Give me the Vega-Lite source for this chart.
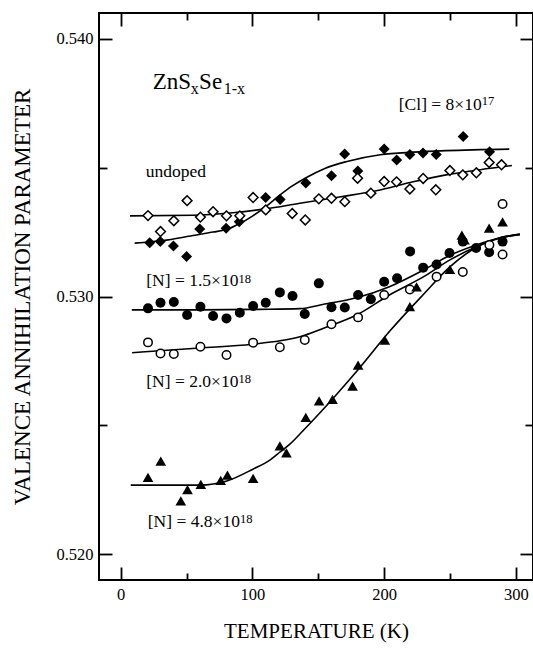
{
  "$schema": "https://vega.github.io/schema/vega-lite/v6.json",
  "width": 434,
  "height": 567,
  "autosize": {"type": "none"},
  "padding": {"left": 99, "top": 13, "right": 0, "bottom": 70},
  "background": "white",
  "config": {"view": {"stroke": "black", "strokeWidth": 2}, "font": "Liberation Serif"},
  "datasets": {
    "curves": [
      {"s": "Cl", "t": 10.6, "v": 0.53207}, {"s": "Cl", "t": 32, "v": 0.53217}, {"s": "Cl", "t": 53, "v": 0.53235}, {"s": "Cl", "t": 70, "v": 0.5325}, {"s": "Cl", "t": 81, "v": 0.53261}, {"s": "Cl", "t": 90, "v": 0.53282}, {"s": "Cl", "t": 100, "v": 0.53312}, {"s": "Cl", "t": 110, "v": 0.53348}, {"s": "Cl", "t": 120, "v": 0.5339}, {"s": "Cl", "t": 130, "v": 0.53428}, {"s": "Cl", "t": 141, "v": 0.53462}, {"s": "Cl", "t": 155, "v": 0.53497}, {"s": "Cl", "t": 171, "v": 0.53523}, {"s": "Cl", "t": 197, "v": 0.5355}, {"s": "Cl", "t": 222, "v": 0.5356}, {"s": "Cl", "t": 247, "v": 0.53566}, {"s": "Cl", "t": 295, "v": 0.53572},
      {"s": "undoped", "t": 7, "v": 0.53313}, {"s": "undoped", "t": 55, "v": 0.53315}, {"s": "undoped", "t": 85, "v": 0.53325}, {"s": "undoped", "t": 110, "v": 0.5334}, {"s": "undoped", "t": 136, "v": 0.53362}, {"s": "undoped", "t": 166, "v": 0.53386}, {"s": "undoped", "t": 194, "v": 0.5341}, {"s": "undoped", "t": 222, "v": 0.53445}, {"s": "undoped", "t": 247, "v": 0.53472}, {"s": "undoped", "t": 273, "v": 0.53492}, {"s": "undoped", "t": 297, "v": 0.53508},
      {"s": "N15", "t": 8.4, "v": 0.52948}, {"s": "N15", "t": 60, "v": 0.52948}, {"s": "N15", "t": 105, "v": 0.5295}, {"s": "N15", "t": 136, "v": 0.52953}, {"s": "N15", "t": 154, "v": 0.5297}, {"s": "N15", "t": 179, "v": 0.52995}, {"s": "N15", "t": 204, "v": 0.53038}, {"s": "N15", "t": 230, "v": 0.53103}, {"s": "N15", "t": 250, "v": 0.5316}, {"s": "N15", "t": 270, "v": 0.532}, {"s": "N15", "t": 288, "v": 0.53228}, {"s": "N15", "t": 303, "v": 0.5324},
      {"s": "N20", "t": 8.6, "v": 0.52782}, {"s": "N20", "t": 60, "v": 0.528}, {"s": "N20", "t": 100, "v": 0.52815}, {"s": "N20", "t": 121, "v": 0.52828}, {"s": "N20", "t": 136, "v": 0.52844}, {"s": "N20", "t": 154, "v": 0.52877}, {"s": "N20", "t": 179, "v": 0.52928}, {"s": "N20", "t": 204, "v": 0.53006}, {"s": "N20", "t": 230, "v": 0.53077}, {"s": "N20", "t": 250, "v": 0.53142}, {"s": "N20", "t": 270, "v": 0.53193}, {"s": "N20", "t": 288, "v": 0.53228}, {"s": "N20", "t": 303, "v": 0.53242},
      {"s": "N48", "t": 7.6, "v": 0.52268}, {"s": "N48", "t": 60, "v": 0.52268}, {"s": "N48", "t": 80.5, "v": 0.52284}, {"s": "N48", "t": 100.3, "v": 0.5233}, {"s": "N48", "t": 113.2, "v": 0.52365}, {"s": "N48", "t": 120.8, "v": 0.52396}, {"s": "N48", "t": 128.4, "v": 0.52427}, {"s": "N48", "t": 138.2, "v": 0.52478}, {"s": "N48", "t": 151.1, "v": 0.52548}, {"s": "N48", "t": 164, "v": 0.52621}, {"s": "N48", "t": 179.2, "v": 0.5271}, {"s": "N48", "t": 204.3, "v": 0.52866}, {"s": "N48", "t": 229.4, "v": 0.53006}, {"s": "N48", "t": 249.9, "v": 0.53115}, {"s": "N48", "t": 270.4, "v": 0.53192}, {"s": "N48", "t": 287.8, "v": 0.53227}, {"s": "N48", "t": 303, "v": 0.53241}
    ],
    "points": [
      {"s": "Cl", "t": 22, "v": 0.53209}, {"s": "Cl", "t": 30, "v": 0.53213}, {"s": "Cl", "t": 40, "v": 0.53196}, {"s": "Cl", "t": 50, "v": 0.53155}, {"s": "Cl", "t": 60, "v": 0.53262}, {"s": "Cl", "t": 80, "v": 0.53265}, {"s": "Cl", "t": 90, "v": 0.5329}, {"s": "Cl", "t": 110, "v": 0.53384}, {"s": "Cl", "t": 121, "v": 0.53376}, {"s": "Cl", "t": 140.5, "v": 0.5344}, {"s": "Cl", "t": 160, "v": 0.53469}, {"s": "Cl", "t": 170, "v": 0.53553}, {"s": "Cl", "t": 180, "v": 0.53487}, {"s": "Cl", "t": 200, "v": 0.53572}, {"s": "Cl", "t": 209.5, "v": 0.5353}, {"s": "Cl", "t": 219.5, "v": 0.53551}, {"s": "Cl", "t": 229.5, "v": 0.53557}, {"s": "Cl", "t": 239.5, "v": 0.53551}, {"s": "Cl", "t": 260, "v": 0.53621}, {"s": "Cl", "t": 280, "v": 0.53562},
      {"s": "undoped", "t": 20.7, "v": 0.53314}, {"s": "undoped", "t": 30.2, "v": 0.53252}, {"s": "undoped", "t": 40.3, "v": 0.53294}, {"s": "undoped", "t": 50.4, "v": 0.53372}, {"s": "undoped", "t": 60.5, "v": 0.53308}, {"s": "undoped", "t": 70.1, "v": 0.53329}, {"s": "undoped", "t": 80.3, "v": 0.53313}, {"s": "undoped", "t": 90.4, "v": 0.53313}, {"s": "undoped", "t": 100.5, "v": 0.53384}, {"s": "undoped", "t": 110.1, "v": 0.53336}, {"s": "undoped", "t": 130.2, "v": 0.53322}, {"s": "undoped", "t": 140.1, "v": 0.53297}, {"s": "undoped", "t": 150.4, "v": 0.53379}, {"s": "undoped", "t": 160, "v": 0.53381}, {"s": "undoped", "t": 170.1, "v": 0.53368}, {"s": "undoped", "t": 179.8, "v": 0.53459}, {"s": "undoped", "t": 189.9, "v": 0.53401}, {"s": "undoped", "t": 200, "v": 0.53446}, {"s": "undoped", "t": 209.4, "v": 0.53445}, {"s": "undoped", "t": 219.5, "v": 0.53417}, {"s": "undoped", "t": 229.6, "v": 0.53458}, {"s": "undoped", "t": 239.2, "v": 0.53414}, {"s": "undoped", "t": 249.9, "v": 0.53489}, {"s": "undoped", "t": 259.7, "v": 0.53472}, {"s": "undoped", "t": 270, "v": 0.5348}, {"s": "undoped", "t": 279.7, "v": 0.5352}, {"s": "undoped", "t": 289.1, "v": 0.53511},
      {"s": "N15", "t": 20.7, "v": 0.52954}, {"s": "N15", "t": 30.2, "v": 0.52976}, {"s": "N15", "t": 40.3, "v": 0.52979}, {"s": "N15", "t": 50.4, "v": 0.52928}, {"s": "N15", "t": 60.5, "v": 0.5296}, {"s": "N15", "t": 70.1, "v": 0.52924}, {"s": "N15", "t": 80.3, "v": 0.52915}, {"s": "N15", "t": 90.4, "v": 0.52937}, {"s": "N15", "t": 100.5, "v": 0.52963}, {"s": "N15", "t": 110.1, "v": 0.52976}, {"s": "N15", "t": 120.8, "v": 0.53016}, {"s": "N15", "t": 130.4, "v": 0.53002}, {"s": "N15", "t": 139.7, "v": 0.52932}, {"s": "N15", "t": 150.4, "v": 0.53051}, {"s": "N15", "t": 160, "v": 0.52958}, {"s": "N15", "t": 170.1, "v": 0.52957}, {"s": "N15", "t": 180.2, "v": 0.53006}, {"s": "N15", "t": 189.9, "v": 0.52989}, {"s": "N15", "t": 200, "v": 0.53057}, {"s": "N15", "t": 209.8, "v": 0.53071}, {"s": "N15", "t": 219.7, "v": 0.53175}, {"s": "N15", "t": 229.6, "v": 0.53112}, {"s": "N15", "t": 239.8, "v": 0.53124}, {"s": "N15", "t": 249.6, "v": 0.53169}, {"s": "N15", "t": 259.7, "v": 0.53213}, {"s": "N15", "t": 269.8, "v": 0.53188}, {"s": "N15", "t": 279.7, "v": 0.53172}, {"s": "N15", "t": 289.9, "v": 0.53213},
      {"s": "N20", "t": 20.7, "v": 0.52822}, {"s": "N20", "t": 30.2, "v": 0.52779}, {"s": "N20", "t": 40.3, "v": 0.52777}, {"s": "N20", "t": 60.5, "v": 0.52805}, {"s": "N20", "t": 80.3, "v": 0.52773}, {"s": "N20", "t": 100.5, "v": 0.52821}, {"s": "N20", "t": 120.8, "v": 0.52803}, {"s": "N20", "t": 139.7, "v": 0.52831}, {"s": "N20", "t": 160, "v": 0.52892}, {"s": "N20", "t": 180.2, "v": 0.52919}, {"s": "N20", "t": 200, "v": 0.53006}, {"s": "N20", "t": 219.5, "v": 0.53027}, {"s": "N20", "t": 239.8, "v": 0.53077}, {"s": "N20", "t": 259.7, "v": 0.53095}, {"s": "N20", "t": 279.9, "v": 0.532}, {"s": "N20", "t": 289.9, "v": 0.53163}, {"s": "N20", "t": 289.9, "v": 0.53359},
      {"s": "N48", "t": 20.7, "v": 0.52298}, {"s": "N48", "t": 30.4, "v": 0.52361}, {"s": "N48", "t": 45.6, "v": 0.52207}, {"s": "N48", "t": 50.7, "v": 0.52251}, {"s": "N48", "t": 60.8, "v": 0.52271}, {"s": "N48", "t": 75.9, "v": 0.52287}, {"s": "N48", "t": 81, "v": 0.52307}, {"s": "N48", "t": 100.5, "v": 0.52294}, {"s": "N48", "t": 120.8, "v": 0.5242}, {"s": "N48", "t": 125.8, "v": 0.52393}, {"s": "N48", "t": 140.5, "v": 0.52531}, {"s": "N48", "t": 150.6, "v": 0.52595}, {"s": "N48", "t": 160.8, "v": 0.52601}, {"s": "N48", "t": 176, "v": 0.52652}, {"s": "N48", "t": 180.2, "v": 0.52734}, {"s": "N48", "t": 200.5, "v": 0.52831}, {"s": "N48", "t": 219.5, "v": 0.52961}, {"s": "N48", "t": 224.6, "v": 0.53037}, {"s": "N48", "t": 249.9, "v": 0.53105}, {"s": "N48", "t": 259, "v": 0.53238}, {"s": "N48", "t": 261, "v": 0.5322}, {"s": "N48", "t": 279.7, "v": 0.53265}, {"s": "N48", "t": 289.9, "v": 0.5329}
    ],
    "texts": [
      {"txt": "ZnS", "role": "big", "tx": 24.3, "ty": 0.53806},
      {"txt": "x", "role": "sub", "tx": 53.2, "ty": 0.53786},
      {"txt": "Se", "role": "big", "tx": 59.5, "ty": 0.53806},
      {"txt": "1-x", "role": "sub", "tx": 78.2, "ty": 0.53786},
      {"txt": "[Cl] = 8×10", "role": "label", "tx": 211.1, "ty": 0.53724},
      {"txt": "17", "role": "sup", "tx": 274.1, "ty": 0.53744},
      {"txt": "undoped", "role": "label", "tx": 19.0, "ty": 0.53464},
      {"txt": "[N] = 1.5×10", "role": "label", "tx": 19.4, "ty": 0.53039},
      {"txt": "18", "role": "sup", "tx": 89.4, "ty": 0.53052},
      {"txt": "[N] = 2.0×10", "role": "label", "tx": 19.4, "ty": 0.5265},
      {"txt": "18", "role": "sup", "tx": 89.4, "ty": 0.52664},
      {"txt": "[N] = 4.8×10", "role": "label", "tx": 20.5, "ty": 0.52107},
      {"txt": "18", "role": "sup", "tx": 90.5, "ty": 0.5212}
    ]
  },
  "layer": [
    {
      "data": {"name": "curves"},
      "mark": {"type": "line", "interpolate": "monotone", "color": "black", "strokeWidth": 1.6},
      "encoding": {
        "x": {"field": "t", "type": "quantitative", "scale": {"domain": [-16.5, 313], "nice": false, "zero": false},
          "axis": {"orient": "bottom", "values": [0, 50, 100, 150, 200, 250, 300], "format": "d",
            "labelExpr": "datum.value % 100 === 0 ? datum.label : ''",
            "tickSize": {"condition": {"test": "datum.value % 100 === 0", "value": -13}, "value": -7},
            "tickWidth": 1.8, "tickColor": "black", "domain": false, "grid": false,
            "labelFont": "Liberation Serif", "labelFontSize": 16.5, "labelColor": "black", "labelPadding": 19, "labelOverlap": false, "labelFlush": false,
            "title": "TEMPERATURE (K)", "titleFont": "Liberation Serif", "titleFontSize": 21, "titleFontWeight": "normal", "titleColor": "black", "titlePadding": 12}},
        "y": {"field": "v", "type": "quantitative", "scale": {"domain": [0.519, 0.541], "nice": false, "zero": false},
          "axis": {"orient": "left", "values": [0.52, 0.525, 0.53, 0.535, 0.54], "format": ".3f",
            "labelExpr": "abs(datum.value * 100 - round(datum.value * 100)) < 0.001 ? datum.label : ''",
            "tickSize": {"condition": {"test": "abs(datum.value * 100 - round(datum.value * 100)) < 0.001", "value": -13}, "value": -8},
            "tickWidth": 1.8, "tickColor": "black", "domain": false, "grid": false,
            "labelFont": "Liberation Serif", "labelFontSize": 16.5, "labelColor": "black", "labelPadding": 19, "labelOverlap": false, "labelFlush": false,
            "title": "VALENCE ANNIHILATION PARAMETER", "titleFont": "Liberation Serif", "titleFontSize": 23, "titleFontWeight": "normal", "titleColor": "black", "titlePadding": 21}},
        "detail": {"field": "s", "type": "nominal"}
      }
    },
    {
      "data": {"name": "points"},
      "transform": [{"filter": "datum.s === 'Cl'"}],
      "mark": {"type": "point", "shape": "diamond", "filled": true, "color": "black", "size": 121, "opacity": 1},
      "encoding": {
        "x": {"field": "t", "type": "quantitative", "scale": {"domain": [-16.5, 313], "nice": false, "zero": false},
          "axis": {"orient": "top", "values": [0, 50, 100, 150, 200, 250, 300], "labels": false, "title": null, "domain": false, "grid": false,
            "tickSize": {"condition": {"test": "datum.value % 100 === 0", "value": -13}, "value": -7},
            "tickWidth": 1.8, "tickColor": "black"}},
        "y": {"field": "v", "type": "quantitative", "scale": {"domain": [0.519, 0.541], "nice": false, "zero": false},
          "axis": {"orient": "right", "values": [0.52, 0.525, 0.53, 0.535, 0.54], "labels": false, "title": null, "domain": false, "grid": false,
            "tickSize": {"condition": {"test": "abs(datum.value * 100 - round(datum.value * 100)) < 0.001", "value": -13}, "value": -8},
            "tickWidth": 1.8, "tickColor": "black"}}
      }
    },
    {
      "data": {"name": "points"},
      "transform": [{"filter": "datum.s === 'undoped'"}],
      "mark": {"type": "point", "shape": "diamond", "filled": true, "fill": "white", "stroke": "black", "strokeWidth": 1.5, "size": 95, "opacity": 1},
      "encoding": {
        "x": {"field": "t", "type": "quantitative", "scale": {"domain": [-16.5, 313], "nice": false, "zero": false}, "axis": null},
        "y": {"field": "v", "type": "quantitative", "scale": {"domain": [0.519, 0.541], "nice": false, "zero": false}, "axis": null}
      }
    },
    {
      "data": {"name": "points"},
      "transform": [{"filter": "datum.s === 'N15'"}],
      "mark": {"type": "point", "shape": "circle", "filled": true, "color": "black", "size": 100, "opacity": 1},
      "encoding": {
        "x": {"field": "t", "type": "quantitative", "scale": {"domain": [-16.5, 313], "nice": false, "zero": false}, "axis": null},
        "y": {"field": "v", "type": "quantitative", "scale": {"domain": [0.519, 0.541], "nice": false, "zero": false}, "axis": null}
      }
    },
    {
      "data": {"name": "points"},
      "transform": [{"filter": "datum.s === 'N20'"}],
      "mark": {"type": "point", "shape": "circle", "filled": true, "fill": "white", "stroke": "black", "strokeWidth": 1.5, "size": 72, "opacity": 1},
      "encoding": {
        "x": {"field": "t", "type": "quantitative", "scale": {"domain": [-16.5, 313], "nice": false, "zero": false}, "axis": null},
        "y": {"field": "v", "type": "quantitative", "scale": {"domain": [0.519, 0.541], "nice": false, "zero": false}, "axis": null}
      }
    },
    {
      "data": {"name": "points"},
      "transform": [{"filter": "datum.s === 'N48'"}],
      "mark": {"type": "point", "shape": "triangle-up", "filled": true, "color": "black", "size": 114, "opacity": 1},
      "encoding": {
        "x": {"field": "t", "type": "quantitative", "scale": {"domain": [-16.5, 313], "nice": false, "zero": false}, "axis": null},
        "y": {"field": "v", "type": "quantitative", "scale": {"domain": [0.519, 0.541], "nice": false, "zero": false}, "axis": null}
      }
    },
    {
      "data": {"name": "texts"},
      "transform": [{"filter": "datum.role === 'big'"}],
      "mark": {"type": "text", "align": "left", "baseline": "alphabetic", "font": "Liberation Serif", "fontSize": 23, "color": "black"},
      "encoding": {
        "x": {"field": "tx", "type": "quantitative", "scale": {"domain": [-16.5, 313], "nice": false, "zero": false}, "axis": null},
        "y": {"field": "ty", "type": "quantitative", "scale": {"domain": [0.519, 0.541], "nice": false, "zero": false}, "axis": null},
        "text": {"field": "txt"}
      }
    },
    {
      "data": {"name": "texts"},
      "transform": [{"filter": "datum.role === 'sub'"}],
      "mark": {"type": "text", "align": "left", "baseline": "alphabetic", "font": "Liberation Serif", "fontSize": 16, "color": "black"},
      "encoding": {
        "x": {"field": "tx", "type": "quantitative", "scale": {"domain": [-16.5, 313], "nice": false, "zero": false}, "axis": null},
        "y": {"field": "ty", "type": "quantitative", "scale": {"domain": [0.519, 0.541], "nice": false, "zero": false}, "axis": null},
        "text": {"field": "txt"}
      }
    },
    {
      "data": {"name": "texts"},
      "transform": [{"filter": "datum.role === 'label'"}],
      "mark": {"type": "text", "align": "left", "baseline": "alphabetic", "font": "Liberation Serif", "fontSize": 17.5, "color": "black"},
      "encoding": {
        "x": {"field": "tx", "type": "quantitative", "scale": {"domain": [-16.5, 313], "nice": false, "zero": false}, "axis": null},
        "y": {"field": "ty", "type": "quantitative", "scale": {"domain": [0.519, 0.541], "nice": false, "zero": false}, "axis": null},
        "text": {"field": "txt"}
      }
    },
    {
      "data": {"name": "texts"},
      "transform": [{"filter": "datum.role === 'sup'"}],
      "mark": {"type": "text", "align": "left", "baseline": "alphabetic", "font": "Liberation Serif", "fontSize": 12.5, "color": "black"},
      "encoding": {
        "x": {"field": "tx", "type": "quantitative", "scale": {"domain": [-16.5, 313], "nice": false, "zero": false}, "axis": null},
        "y": {"field": "ty", "type": "quantitative", "scale": {"domain": [0.519, 0.541], "nice": false, "zero": false}, "axis": null},
        "text": {"field": "txt"}
      }
    }
  ],
  "resolve": {"axis": {"x": "independent", "y": "independent"}}
}
